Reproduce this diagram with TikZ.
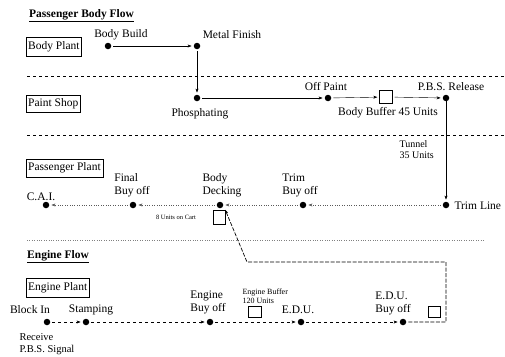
\documentclass[tikz,border=0pt]{standalone}
\usepackage{fontspec}
\setmainfont{Liberation Serif}
\usetikzlibrary{arrows.meta}

\begin{document}
\begin{tikzpicture}[x=1pt,y=-1pt,font=\fontsize{11.5}{13}\selectfont,>={Stealth[length=4pt,width=3pt]},
  dot/.style={circle,fill,inner sep=0pt,minimum size=6.5pt},
  area/.style={draw,thin,inner sep=2pt,minimum height=19pt,anchor=west},
  buffer/.style={draw,thin,minimum width=12pt,minimum height=12pt,inner sep=0pt},
  sect/.style={anchor=west,inner sep=1pt,font=\fontsize{11.5}{13}\selectfont\bfseries},
  flow/.style={->,thin,shorten >=2pt,shorten <=2pt},
  backflow/.style={flow,dotted,gray!70!black},
  engflow/.style={flow,dashed},
  returnflow/.style={->,line width=0.7pt,dash pattern=on 4pt off 1.5pt,shorten <=2pt},
  divider/.style={dashed,thin}]
\useasboundingbox (0,0) rectangle (505,356);

% section titles and dividers
\node[sect] (pbflow) at (28,16) {\underline{Passenger Body Flow}};
\node[sect] (eflow) at (26,257) {\underline{Engine Flow}};
\draw[divider] (27,76) -- (505,76);
\draw[divider] (27,135) -- (505,135);
\draw[dotted,gray] (27,240) -- (485,240);

% plant boxes
\node[area] (bplant) at (26,47) {Body Plant};
\node[area,minimum height=17pt] (pshop) at (26,104) {Paint Shop};
\node[area,minimum height=18pt] (pplant) at (26,168) {Passenger Plant};
\node[area] (eplant) at (26,288) {Engine Plant};

% body plant and paint shop
\node[dot] (bb) at (108,46) {};
\node[dot] (mf) at (197,46) {};
\node[dot] (ph) at (197,98) {};
\node[dot] (op) at (328,98) {};
\node[buffer,minimum width=13pt,minimum height=13pt] (bbuf) at (386,97) {};
\node[dot] (pbs) at (446,98) {};
\node (bbl) at (121,35) {Body Build};
\node (mfl) at (232,35) {Metal Finish};
\node (phl) at (200,114) {Phosphating};
\node (opl) at (326,87) {Off Paint};
\node (pbsl) at (451,87) {P.B.S. Release};
\node (bbufl) at (388,113) {Body Buffer 45 Units};
\draw[flow] (bb) -- (mf);
\draw[flow] (mf) -- (ph);
\draw[flow] (ph) -- (op);
\draw[flow] (op) -- (bbuf);
\draw[flow] (bbuf) -- (pbs);

% passenger plant
\node[dot] (cai) at (46,205) {};
\node[dot] (fbo) at (133,205) {};
\node[dot] (bd) at (220,205) {};
\node[dot] (tbo) at (303,205) {};
\node[dot] (tl) at (446,205) {};
\node[buffer,minimum height=14pt] (cart) at (219,217) {};
\node (cail) at (41,197) {C.A.I.};
\node[align=left] (fbol) at (132,185) {Final\\Buy off};
\node[align=left] (bdl) at (222,185) {Body\\Decking};
\node[align=left] (tbol) at (300,185) {Trim\\Buy off};
\node[anchor=west] (tll) at (451,206) {Trim Line};
\node[align=left,anchor=north west,font=\fontsize{10}{11}\selectfont] (tunl) at (396,137) {Tunnel\\35 Units};
\node[font=\fontsize{6.5}{7}\selectfont] (cartl) at (176,217) {8 Units on Cart};
\draw[flow,shorten <=0pt] (pbs) -- (tl);
\draw[backflow] (tl) -- (tbo);
\draw[backflow] (tbo) -- (bd);
\draw[backflow] (bd) -- (fbo);
\draw[backflow] (fbo) -- (cai);

% engine plant
\node[dot] (bi) at (47,322) {};
\node[dot] (st) at (86,322) {};
\node[dot] (ebo) at (210,322) {};
\node[buffer,minimum width=13pt,minimum height=11pt] (ebuf) at (255,312) {};
\node[dot] (edu) at (301,322) {};
\node[dot] (edubo) at (403,322) {};
\node[buffer,minimum height=11pt] (edubuf) at (434,312) {};
\node (bil) at (30,310) {Block In};
\node (stl) at (91,310) {Stamping};
\node[align=left] (ebol) at (208,302) {Engine\\Buy off};
\node[align=left,anchor=west,font=\fontsize{8}{9}\selectfont] (ebufl) at (239,296) {Engine Buffer\\120 Units};
\node (edul) at (298,310) {E.D.U.};
\node[align=left] (edubol) at (393,303) {E.D.U.\\Buy off};
\node[align=left,anchor=north west,font=\fontsize{10.5}{12}\selectfont] (pbssig) at (16,330) {Receive\\P.B.S. Signal};
\draw[engflow] (bi) -- (st);
\draw[engflow] (st) -- (ebo);
\draw[engflow] (ebo) -- (edu);
\draw[engflow] (edu) -- (edubo);

% engine return to body decking
\coordinate (r1) at (446,322);
\coordinate (r2) at (446,262);
\coordinate (r3) at (247,262);
\draw[returnflow] (edubo) -- (r1) -- (r2) -- (r3) -- (cart.north east);
\end{tikzpicture}
\end{document}
